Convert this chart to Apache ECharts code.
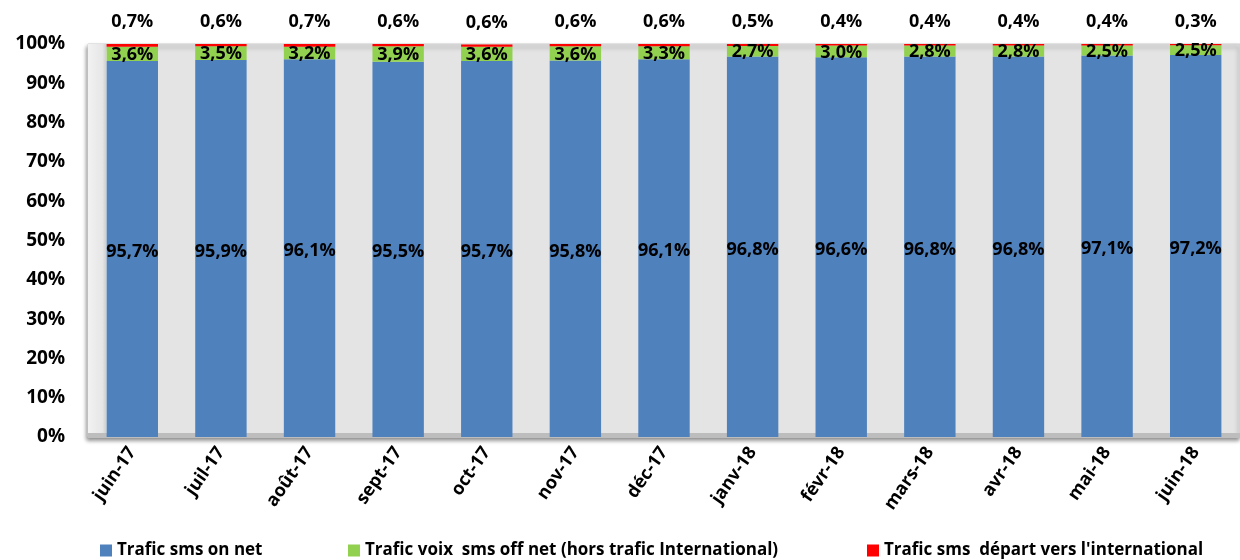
<!DOCTYPE html>
<html><head><meta charset="utf-8">
<script src="https://cdn.jsdelivr.net/npm/echarts@6/dist/echarts.min.js"></script>
<style>html,body{margin:0;padding:0;background:#fff}#c{width:1240px;height:560px}</style>
</head><body><div id="c"></div>
<script>
const categories = ['juin-17','juil-17','août-17','sept-17','oct-17','nov-17','déc-17','janv-18','févr-18','mars-18','avr-18','mai-18','juin-18'];
const onNet = [95.7,95.9,96.1,95.5,95.7,95.8,96.1,96.8,96.6,96.8,96.8,97.1,97.2];
const offNet = [3.6,3.5,3.2,3.9,3.6,3.6,3.3,2.7,3.0,2.8,2.8,2.5,2.5];
const intl = [0.7,0.6,0.7,0.6,0.6,0.6,0.6,0.5,0.4,0.4,0.4,0.4,0.3];
const yTicks = [0,10,20,30,40,50,60,70,80,90,100];
const names = ['Trafic sms on net','Trafic voix  sms off net (hors trafic International)',"Trafic sms  départ vers l'international"];

const font = 'Open Sans';
const fmt = v => v.toFixed(1).replace('.', ',') + '%';
const lbl = (extra) => Object.assign({show:true, color:'#000', fontWeight:'bold', fontSize:18, fontFamily:font,
  formatter: p => fmt(p.value)}, extra);

const chart = echarts.init(document.getElementById('c'));
chart.setOption({
  animation:false,
  grid:{left:88, top:44, width:1165, height:393, show:true, backgroundColor:'#E4E4E4', borderColor:'#CFCFCF', borderWidth:1,
    shadowColor:'rgba(0,0,0,0.45)', shadowBlur:4, shadowOffsetX:-1, shadowOffsetY:3},
  graphic:[
    {type:'rect', z:0, shape:{x:88, y:44, width:18, height:393},
      style:{fill:{type:'linear', x:0, y:0, x2:1, y2:0, colorStops:[{offset:0,color:'#F2F2F2'},{offset:0.8,color:'#E6E6E6'},{offset:1,color:'#D0D0D0'}]}}},
    {type:'rect', z:0, shape:{x:88, y:433, width:1160, height:5},
      style:{fill:'#BDBDBD'}}
  ],
  legend:[
    {data:[names[0]], left:95, top:537},
    {data:[names[1]], left:343, top:537},
    {data:[names[2]], left:862, top:537}
  ].map(l => Object.assign(l, {itemWidth:12, itemHeight:12, icon:'rect', itemGap:6,
      textStyle:{fontFamily:font, fontWeight:'bold', fontSize:17, color:'#000'}})),
  xAxis:{type:'category', data:categories,
    axisLine:{show:false}, axisTick:{show:false},
    axisLabel:{rotate:55, interval:0, margin:12, color:'#000', fontWeight:'bold', fontSize:18, fontFamily:font}},
  yAxis:{type:'value', min:0, max:100, interval:10,
    axisLine:{show:false}, axisTick:{show:false}, splitLine:{show:false},
    axisLabel:{margin:23, color:'#000', fontWeight:'bold', fontSize:19, fontFamily:font,
      formatter: v => yTicks.includes(v) ? v + '%' : ''}},
  series:[
    {name:names[0], type:'bar', stack:'s', data:onNet, barCategoryGap:'42%', itemStyle:{color:'#4F81BD'},
      label:lbl({position:'inside', offset:[0,3]})},
    {name:names[1], type:'bar', stack:'s', data:offNet, itemStyle:{color:'#92D050'},
      label:lbl({position:'inside', offset:[0,1]})},
    {name:names[2], type:'bar', stack:'s', data:intl, itemStyle:{color:'#FF0000'},
      label:lbl({position:'top', distance:13})}
  ]
});
</script></body></html>
